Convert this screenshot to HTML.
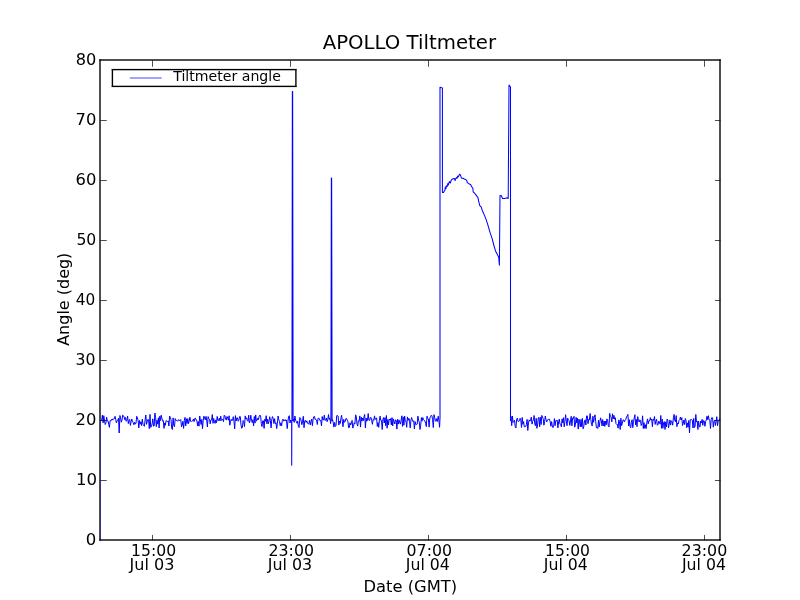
<!DOCTYPE html>
<html><head><meta charset="utf-8"><title>APOLLO Tiltmeter</title>
<style>
html,body{margin:0;padding:0;background:#fff;width:800px;height:600px;overflow:hidden}
svg{display:block;will-change:transform}
text{font-family:"DejaVu Sans","Liberation Sans",sans-serif;fill:#000}
</style></head><body>
<svg width="800" height="600" viewBox="0 0 800 600">
<defs><clipPath id="ax"><rect x="100" y="60" width="620" height="480"/></clipPath></defs>
<rect width="800" height="600" fill="#fff"/>
<g>
<rect x="99.000" y="59.306" width="1.000" height="481.388" fill="#000" fill-opacity="0.694"/>
<rect x="100.000" y="59.306" width="1.000" height="481.388" fill="#000" fill-opacity="0.694"/>
<rect x="719.000" y="59.306" width="1.000" height="481.388" fill="#000" fill-opacity="0.694"/>
<rect x="720.000" y="59.306" width="1.000" height="481.388" fill="#000" fill-opacity="0.694"/>
<rect x="99.306" y="59.000" width="621.388" height="1.000" fill="#000" fill-opacity="0.694"/>
<rect x="99.306" y="60.000" width="621.388" height="1.000" fill="#000" fill-opacity="0.694"/>
<rect x="99.306" y="539.000" width="621.388" height="1.000" fill="#000" fill-opacity="0.694"/>
<rect x="99.306" y="540.000" width="621.388" height="1.000" fill="#000" fill-opacity="0.694"/>
</g>
<path clip-path="url(#ax)" d="M99.85 540.0 L99.85 421.0 M291.65 421.0 L291.70 465.2 L291.85 421.0 L291.95 419.0 L292.35 91.4 L292.65 91.4 L293.10 421.0 M330.90 421.0 L331.35 178.0 L331.65 178.0 L332.10 421.0 M440.00 418.0 L440.00 87.2 L442.40 88.0 L442.40 192.4 L443.50 192.6 L444.30 191.0 L444.90 190.3 L445.30 187.0 L445.90 188.6 L446.40 185.8 L447.20 186.5 L447.80 183.6 L448.30 185.0 L449.30 181.6 L450.30 183.0 L451.00 180.8 L451.70 179.6 L453.00 178.8 L454.30 178.5 L455.20 180.5 L455.60 178.8 L456.60 177.6 L457.00 178.3 L457.60 176.2 L458.20 176.9 L459.50 174.3 L460.40 174.9 L461.50 178.2 L462.90 178.2 L464.40 179.0 L466.60 180.1 L467.30 182.6 L468.80 183.7 L470.60 184.5 L471.70 186.7 L472.80 188.1 L473.20 191.8 L474.70 193.3 L476.10 195.1 L478.00 197.7 L478.70 201.3 L479.80 205.7 L481.30 207.2 L482.40 210.9 L483.50 213.1 L485.90 218.9 L488.00 225.3 L490.10 232.7 L492.30 239.1 L493.90 245.5 L495.50 250.9 L497.10 254.1 L498.70 257.3 L499.40 265.3 L500.00 195.6 L501.20 195.6 L502.60 198.5 L504.70 198.5 L507.10 197.7 L508.20 198.5 L509.00 85.0 L510.50 87.0 L510.50 421.0" fill="none" stroke="#0000ff" stroke-width="1.04" stroke-linejoin="round" stroke-linecap="butt"/>
<path clip-path="url(#ax)" d="M99.85 421.0 L100.30 420.5 L101.00 420.8 L101.70 420.3 L102.40 415.1 L103.10 422.9 L103.80 415.7 L104.50 420.6 L105.20 424.5 L105.90 423.1 L106.60 417.2 L107.30 420.9 L108.00 420.8 L108.70 424.3 L109.40 427.4 L110.10 420.5 L110.80 421.1 L111.50 419.3 L112.20 420.1 L112.90 418.8 L113.60 419.3 L114.30 418.8 L115.00 416.3 L115.70 419.4 L116.40 422.9 L117.10 420.6 L117.80 420.3 L118.50 418.2 L119.20 433.0 L119.90 415.5 L120.60 417.9 L121.30 422.2 L122.00 420.1 L122.70 415.1 L123.40 415.7 L124.10 417.0 L124.80 419.8 L125.50 417.5 L126.20 421.3 L126.90 420.0 L127.60 416.0 L128.30 423.6 L129.00 420.6 L129.70 419.4 L130.40 425.4 L131.10 421.7 L131.80 419.1 L132.50 421.3 L133.20 422.7 L133.90 424.7 L134.60 422.3 L135.30 424.2 L136.00 423.0 L136.70 416.3 L137.40 418.0 L138.10 420.3 L138.80 427.9 L139.50 420.4 L140.20 424.2 L140.90 421.8 L141.60 425.6 L142.30 419.1 L143.00 424.5 L143.70 425.1 L144.40 426.3 L145.10 420.0 L145.80 415.0 L146.50 424.3 L147.20 421.5 L147.90 419.3 L148.60 419.8 L149.30 428.6 L150.00 414.4 L150.70 427.4 L151.40 426.4 L152.10 423.9 L152.80 418.8 L153.50 426.2 L154.20 425.8 L154.90 413.0 L155.60 417.4 L156.30 426.7 L157.00 420.2 L157.70 424.1 L158.40 417.8 L159.10 428.0 L159.80 416.1 L160.50 420.5 L161.20 415.2 L161.90 418.3 L162.60 421.1 L163.30 420.5 L164.00 428.4 L164.70 422.9 L165.40 425.3 L166.10 420.5 L166.80 421.0 L167.50 421.5 L168.20 420.8 L168.90 426.0 L169.60 416.0 L170.30 417.5 L171.00 419.7 L171.70 428.1 L172.40 429.5 L173.10 417.9 L173.80 425.6 L174.50 426.7 L175.20 418.6 L175.90 420.3 L176.60 420.3 L177.30 421.1 L178.00 421.0 L178.70 419.6 L179.40 420.4 L180.10 420.5 L180.80 419.6 L181.50 426.8 L182.20 425.1 L182.90 421.4 L183.60 428.4 L184.30 420.6 L185.00 417.4 L185.70 426.0 L186.40 418.7 L187.10 423.5 L187.80 418.6 L188.50 423.7 L189.20 421.3 L189.90 417.2 L190.60 421.2 L191.30 421.9 L192.00 421.2 L192.70 420.6 L193.40 419.1 L194.10 421.6 L194.80 418.4 L195.50 418.1 L196.20 420.3 L196.90 420.4 L197.60 426.0 L198.30 421.5 L199.00 426.2 L199.70 416.0 L200.40 419.8 L201.10 424.5 L201.80 419.4 L202.50 428.7 L203.20 420.4 L203.90 416.2 L204.60 417.9 L205.30 419.9 L206.00 416.4 L206.70 420.0 L207.40 427.0 L208.10 416.6 L208.80 418.4 L209.50 419.3 L210.20 423.8 L210.90 420.0 L211.60 419.9 L212.30 414.5 L213.00 423.3 L213.70 418.4 L214.40 422.0 L215.10 423.4 L215.80 419.9 L216.50 422.7 L217.20 416.4 L217.90 420.5 L218.60 420.6 L219.30 418.1 L220.00 420.9 L220.70 416.1 L221.40 420.4 L222.10 419.5 L222.80 419.4 L223.50 421.7 L224.20 415.1 L224.90 415.8 L225.60 418.9 L226.30 420.1 L227.00 416.5 L227.70 418.1 L228.40 420.2 L229.10 415.8 L229.80 425.2 L230.50 421.6 L231.20 419.3 L231.90 420.8 L232.60 420.0 L233.30 416.7 L234.00 421.4 L234.70 428.9 L235.40 415.6 L236.10 421.0 L236.80 417.8 L237.50 417.9 L238.20 421.3 L238.90 420.1 L239.60 416.5 L240.30 416.6 L241.00 424.9 L241.70 428.3 L242.40 427.4 L243.10 420.5 L243.80 421.8 L244.50 426.6 L245.20 415.9 L245.90 419.1 L246.60 417.8 L247.30 420.5 L248.00 421.3 L248.70 415.2 L249.40 423.0 L250.10 420.7 L250.80 415.2 L251.50 420.3 L252.20 422.6 L252.90 419.7 L253.60 425.9 L254.30 416.5 L255.00 423.1 L255.70 414.9 L256.40 421.0 L257.10 420.4 L257.80 418.1 L258.50 419.6 L259.20 416.1 L259.90 415.1 L260.60 415.8 L261.30 423.5 L262.00 426.6 L262.70 420.8 L263.40 420.8 L264.10 428.4 L264.80 419.2 L265.50 421.3 L266.20 415.7 L266.90 423.8 L267.60 419.2 L268.30 423.7 L269.00 421.2 L269.70 416.7 L270.40 420.6 L271.10 427.9 L271.80 419.2 L272.50 416.6 L273.20 418.5 L273.90 423.5 L274.60 418.7 L275.30 423.8 L276.00 422.8 L276.70 428.6 L277.40 423.2 L278.10 416.0 L278.80 419.7 L279.50 421.5 L280.20 425.7 L280.90 422.8 L281.60 425.8 L282.30 420.5 L283.00 419.1 L283.70 421.0 L284.40 420.7 L285.10 419.6 L285.80 421.0 L286.50 419.9 L287.20 428.6 L287.90 421.9 L288.60 416.4 L289.30 415.7 L290.00 423.0 L290.70 420.0 L291.40 421.8 L291.65 421.0 M293.10 421.0 L293.50 419.2 L294.20 422.4 L294.90 416.0 L295.60 420.2 L296.30 421.6 L297.00 423.3 L297.70 421.1 L298.40 426.6 L299.10 427.6 L299.80 417.5 L300.50 418.3 L301.20 421.1 L301.90 424.7 L302.60 421.1 L303.30 416.3 L304.00 427.7 L304.70 421.1 L305.40 420.2 L306.10 422.4 L306.80 420.8 L307.50 423.2 L308.20 423.9 L308.90 423.8 L309.60 420.2 L310.30 425.0 L311.00 421.6 L311.70 419.1 L312.40 425.7 L313.10 419.2 L313.80 416.7 L314.50 416.4 L315.20 419.7 L315.90 419.4 L316.60 420.0 L317.30 424.5 L318.00 418.7 L318.70 417.9 L319.40 419.1 L320.10 420.8 L320.80 420.4 L321.50 426.0 L322.20 416.5 L322.90 420.0 L323.60 419.9 L324.30 415.1 L325.00 420.5 L325.70 420.0 L326.40 418.0 L327.10 421.7 L327.80 419.3 L328.50 414.5 L329.20 419.5 L329.90 417.9 L330.60 423.6 L330.90 421.0 M332.10 421.0 L332.50 419.6 L333.20 422.4 L333.90 427.1 L334.60 422.4 L335.30 426.3 L336.00 425.8 L336.70 415.7 L337.40 415.5 L338.10 416.0 L338.80 425.1 L339.50 421.2 L340.20 423.5 L340.90 418.5 L341.60 415.3 L342.30 421.1 L343.00 426.7 L343.70 419.4 L344.40 422.2 L345.10 421.8 L345.80 418.7 L346.50 418.5 L347.20 420.1 L347.90 421.3 L348.60 427.7 L349.30 427.6 L350.00 422.7 L350.70 425.0 L351.40 422.8 L352.10 420.4 L352.80 428.1 L353.50 426.5 L354.20 422.8 L354.90 423.9 L355.60 414.8 L356.30 416.8 L357.00 424.1 L357.70 426.1 L358.40 420.8 L359.10 421.2 L359.80 415.9 L360.50 427.1 L361.20 417.1 L361.90 421.2 L362.60 418.1 L363.30 420.6 L364.00 416.6 L364.70 414.5 L365.40 427.9 L366.10 418.0 L366.80 421.2 L367.50 420.1 L368.20 413.5 L368.90 420.2 L369.60 420.6 L370.30 417.6 L371.00 417.5 L371.70 420.5 L372.40 424.3 L373.10 419.6 L373.80 420.3 L374.50 415.9 L375.20 419.5 L375.90 418.4 L376.60 418.0 L377.30 426.4 L378.00 422.6 L378.70 427.3 L379.40 420.3 L380.10 416.1 L380.80 420.6 L381.50 420.6 L382.20 429.5 L382.90 419.3 L383.60 417.6 L384.30 423.0 L385.00 417.6 L385.70 425.7 L386.40 415.5 L387.10 428.2 L387.80 419.5 L388.50 424.9 L389.20 419.1 L389.90 420.0 L390.60 418.6 L391.30 424.9 L392.00 417.6 L392.70 426.0 L393.40 418.9 L394.10 421.4 L394.80 424.0 L395.50 419.9 L396.20 420.3 L396.90 429.1 L397.60 419.3 L398.30 424.1 L399.00 419.9 L399.70 422.7 L400.40 424.1 L401.10 420.4 L401.80 415.8 L402.50 426.4 L403.20 416.9 L403.90 425.3 L404.60 416.0 L405.30 420.9 L406.00 421.1 L406.70 427.3 L407.40 416.9 L408.10 420.5 L408.80 418.3 L409.50 420.1 L410.20 427.9 L410.90 420.5 L411.60 417.5 L412.30 420.1 L413.00 421.5 L413.70 420.7 L414.40 428.9 L415.10 421.6 L415.80 424.6 L416.50 424.5 L417.20 424.1 L417.90 416.1 L418.60 420.2 L419.30 422.2 L420.00 429.5 L420.70 425.3 L421.40 417.6 L422.10 421.1 L422.80 417.6 L423.50 419.5 L424.20 420.4 L424.90 420.9 L425.60 423.4 L426.30 426.6 L427.00 416.2 L427.70 418.5 L428.40 418.9 L429.10 427.1 L429.80 418.2 L430.50 416.6 L431.20 415.3 L431.90 415.6 L432.60 419.7 L433.30 427.5 L434.00 414.6 L434.70 417.6 L435.40 420.9 L436.10 421.4 L436.80 418.6 L437.50 421.4 L438.20 416.2 L438.90 420.4 L439.60 427.3 L440.00 418.0 M510.50 421.0 L511.00 416.4 L511.70 425.6 L512.40 416.0 L513.10 422.5 L513.80 421.3 L514.50 420.2 L515.20 426.6 L515.90 428.0 L516.60 419.5 L517.30 418.2 L518.00 421.3 L518.70 421.5 L519.40 420.8 L520.10 418.3 L520.80 419.9 L521.50 427.5 L522.20 417.4 L522.90 424.3 L523.60 421.6 L524.30 426.8 L525.00 426.7 L525.70 426.5 L526.40 424.6 L527.10 419.4 L527.80 430.5 L528.50 422.9 L529.20 419.9 L529.90 421.2 L530.60 420.1 L531.30 417.1 L532.00 424.1 L532.70 421.2 L533.40 419.9 L534.10 415.5 L534.80 424.4 L535.50 425.7 L536.20 418.3 L536.90 428.3 L537.60 425.0 L538.30 417.7 L539.00 417.4 L539.70 426.7 L540.40 417.3 L541.10 424.5 L541.80 415.4 L542.50 417.0 L543.20 418.6 L543.90 425.2 L544.60 421.8 L545.30 416.0 L546.00 419.5 L546.70 421.9 L547.40 420.6 L548.10 419.2 L548.80 419.4 L549.50 419.2 L550.20 421.9 L550.90 426.3 L551.60 421.6 L552.30 425.8 L553.00 427.6 L553.70 425.9 L554.40 418.6 L555.10 425.7 L555.80 420.6 L556.50 420.7 L557.20 420.0 L557.90 427.9 L558.60 421.9 L559.30 419.0 L560.00 424.3 L560.70 424.8 L561.40 426.8 L562.10 418.8 L562.80 423.0 L563.50 417.7 L564.20 426.8 L564.90 421.5 L565.60 414.7 L566.30 421.1 L567.00 425.7 L567.70 418.2 L568.40 419.8 L569.10 420.7 L569.80 425.4 L570.50 420.8 L571.20 416.3 L571.90 425.8 L572.60 418.0 L573.30 418.5 L574.00 416.3 L574.70 427.2 L575.40 424.8 L576.10 417.3 L576.80 422.9 L577.50 418.3 L578.20 429.1 L578.90 419.1 L579.60 422.1 L580.30 426.9 L581.00 419.4 L581.70 426.8 L582.40 418.4 L583.10 428.8 L583.80 426.7 L584.50 420.8 L585.20 419.8 L585.90 425.0 L586.60 415.9 L587.30 415.8 L588.00 423.7 L588.70 419.4 L589.40 420.1 L590.10 413.5 L590.80 419.3 L591.50 424.5 L592.20 426.0 L592.90 416.2 L593.60 422.3 L594.30 417.5 L595.00 414.8 L595.70 421.3 L596.40 427.7 L597.10 427.2 L597.80 428.5 L598.50 420.2 L599.20 427.0 L599.90 421.7 L600.60 417.8 L601.30 420.8 L602.00 425.9 L602.70 419.6 L603.40 425.8 L604.10 421.0 L604.80 426.4 L605.50 421.1 L606.20 424.8 L606.90 418.9 L607.60 420.2 L608.30 425.7 L609.00 426.9 L609.70 413.4 L610.40 416.4 L611.10 417.5 L611.80 421.9 L612.50 413.8 L613.20 418.9 L613.90 415.3 L614.60 419.2 L615.30 417.7 L616.00 423.6 L616.70 424.4 L617.40 424.4 L618.10 428.2 L618.80 419.9 L619.50 421.8 L620.20 429.5 L620.90 418.2 L621.60 425.6 L622.30 423.5 L623.00 420.0 L623.70 419.9 L624.40 421.9 L625.10 420.5 L625.80 419.4 L626.50 416.9 L627.20 416.0 L627.90 414.4 L628.60 425.9 L629.30 419.6 L630.00 426.3 L630.70 427.7 L631.40 422.2 L632.10 419.7 L632.80 427.7 L633.50 421.6 L634.20 418.2 L634.90 414.7 L635.60 424.8 L636.30 419.4 L637.00 426.7 L637.70 416.6 L638.40 420.6 L639.10 422.0 L639.80 419.8 L640.50 420.7 L641.20 425.5 L641.90 423.8 L642.60 415.8 L643.30 428.5 L644.00 422.6 L644.70 428.3 L645.40 424.7 L646.10 428.6 L646.80 423.0 L647.50 418.9 L648.20 423.8 L648.90 420.8 L649.60 421.0 L650.30 417.6 L651.00 420.1 L651.70 419.0 L652.40 426.7 L653.10 419.2 L653.80 420.4 L654.50 416.5 L655.20 424.4 L655.90 420.9 L656.60 419.2 L657.30 425.3 L658.00 424.6 L658.70 421.2 L659.40 422.0 L660.10 424.1 L660.80 415.5 L661.50 428.3 L662.20 419.1 L662.90 428.3 L663.60 422.8 L664.30 421.6 L665.00 429.5 L665.70 421.9 L666.40 427.0 L667.10 419.0 L667.80 420.3 L668.50 427.8 L669.20 424.2 L669.90 419.9 L670.60 425.1 L671.30 420.7 L672.00 421.6 L672.70 425.2 L673.40 417.8 L674.10 414.4 L674.80 420.7 L675.50 421.8 L676.20 415.6 L676.90 426.7 L677.60 423.0 L678.30 423.9 L679.00 420.4 L679.70 419.6 L680.40 417.2 L681.10 420.0 L681.80 417.6 L682.50 425.5 L683.20 423.5 L683.90 420.0 L684.60 424.5 L685.30 418.5 L686.00 420.4 L686.70 427.6 L687.40 422.9 L688.10 427.2 L688.80 420.5 L689.50 433.0 L690.20 419.7 L690.90 419.7 L691.60 419.6 L692.30 420.1 L693.00 428.0 L693.70 418.4 L694.40 427.5 L695.10 426.1 L695.80 414.5 L696.50 422.0 L697.20 421.0 L697.90 429.5 L698.60 421.2 L699.30 426.5 L700.00 427.1 L700.70 421.1 L701.40 422.9 L702.10 419.4 L702.80 425.3 L703.50 420.5 L704.20 420.9 L704.90 426.3 L705.60 421.7 L706.30 419.9 L707.00 416.2 L707.70 419.7 L708.40 415.7 L709.10 419.9 L709.80 420.4 L710.50 428.5 L711.20 419.3 L711.90 417.4 L712.60 417.9 L713.30 427.2 L714.00 421.2 L714.70 420.2 L715.40 425.5 L716.10 421.0 L716.80 416.7 L717.50 425.7 L718.20 421.2 L718.90 420.4 L719.60 418.8 L720.30 421.4" fill="none" stroke="#0000ff" stroke-width="1.0" stroke-linejoin="round" stroke-linecap="butt"/>
<g>
<rect x="152.000" y="60.500" width="1.000" height="6.250" fill="#000" fill-opacity="0.694"/>
<rect x="152.000" y="534.944" width="1.000" height="5.556" fill="#000" fill-opacity="0.694"/>
<rect x="290.000" y="60.500" width="1.000" height="6.250" fill="#000" fill-opacity="0.694"/>
<rect x="290.000" y="534.944" width="1.000" height="5.556" fill="#000" fill-opacity="0.694"/>
<rect x="428.000" y="60.500" width="1.000" height="6.250" fill="#000" fill-opacity="0.694"/>
<rect x="428.000" y="534.944" width="1.000" height="5.556" fill="#000" fill-opacity="0.694"/>
<rect x="566.000" y="60.500" width="1.000" height="6.250" fill="#000" fill-opacity="0.694"/>
<rect x="566.000" y="534.944" width="1.000" height="5.556" fill="#000" fill-opacity="0.694"/>
<rect x="704.000" y="60.500" width="1.000" height="6.250" fill="#000" fill-opacity="0.694"/>
<rect x="704.000" y="534.944" width="1.000" height="5.556" fill="#000" fill-opacity="0.694"/>
<rect x="100.500" y="480.000" width="6.250" height="1.000" fill="#000" fill-opacity="0.694"/>
<rect x="714.944" y="480.000" width="5.556" height="1.000" fill="#000" fill-opacity="0.694"/>
<rect x="100.500" y="420.000" width="6.250" height="1.000" fill="#000" fill-opacity="0.694"/>
<rect x="714.944" y="420.000" width="5.556" height="1.000" fill="#000" fill-opacity="0.694"/>
<rect x="100.500" y="360.000" width="6.250" height="1.000" fill="#000" fill-opacity="0.694"/>
<rect x="714.944" y="360.000" width="5.556" height="1.000" fill="#000" fill-opacity="0.694"/>
<rect x="100.500" y="300.000" width="6.250" height="1.000" fill="#000" fill-opacity="0.694"/>
<rect x="714.944" y="300.000" width="5.556" height="1.000" fill="#000" fill-opacity="0.694"/>
<rect x="100.500" y="240.000" width="6.250" height="1.000" fill="#000" fill-opacity="0.694"/>
<rect x="714.944" y="240.000" width="5.556" height="1.000" fill="#000" fill-opacity="0.694"/>
<rect x="100.500" y="180.000" width="6.250" height="1.000" fill="#000" fill-opacity="0.694"/>
<rect x="714.944" y="180.000" width="5.556" height="1.000" fill="#000" fill-opacity="0.694"/>
<rect x="100.500" y="120.000" width="6.250" height="1.000" fill="#000" fill-opacity="0.694"/>
<rect x="714.944" y="120.000" width="5.556" height="1.000" fill="#000" fill-opacity="0.694"/>
</g>
<g>
<rect x="112.5" y="69.5" width="183.45" height="17" fill="#fff"/>
<line x1="112.4" y1="69.2" x2="112.4" y2="86.8" stroke="#000" stroke-width="1.39"/>
<line x1="295.9" y1="69.2" x2="295.9" y2="86.8" stroke="#000" stroke-width="1.39"/>
<rect x="111.705" y="68.000" width="184.890" height="1.000" fill="#000" fill-opacity="0.095"/>
<rect x="111.705" y="69.000" width="184.890" height="1.000" fill="#000" fill-opacity="1.000"/>
<rect x="111.705" y="70.000" width="184.890" height="1.000" fill="#000" fill-opacity="0.295"/>
<rect x="111.705" y="85.000" width="184.890" height="1.000" fill="#000" fill-opacity="0.295"/>
<rect x="111.705" y="86.000" width="184.890" height="1.000" fill="#000" fill-opacity="1.000"/>
<rect x="111.705" y="87.000" width="184.890" height="1.000" fill="#000" fill-opacity="0.095"/>
<rect x="129.800" y="77.000" width="31.900" height="2.000" fill="#0000ff" fill-opacity="0.360"/>
</g>
<g>
<text transform="translate(322.74 49.0) scale(0.9858 1)" font-size="20.0px">APOLLO Tiltmeter</text>
<text transform="translate(363.39 592.05) scale(0.9810 1)" font-size="16.667px">Date (GMT)</text>
<text transform="translate(173.25 81.1) scale(1.0167 1)" font-size="13.889px">Tiltmeter angle</text>
<text transform="translate(85.74 545.15) scale(0.9933 1)" font-size="16.667px">0</text>
<text transform="translate(76.08 485.15) scale(0.9952 1)" font-size="16.667px">10</text>
<text transform="translate(75.53 425.15) scale(0.9826 1)" font-size="16.667px">20</text>
<text transform="translate(75.46 365.15) scale(0.9411 1)" font-size="16.667px">30</text>
<text transform="translate(75.85 305.15) scale(0.9214 1)" font-size="16.667px">40</text>
<text transform="translate(76.41 245.15) scale(0.9385 1)" font-size="16.667px">50</text>
<text transform="translate(75.54 185.15) scale(0.9822 1)" font-size="16.667px">60</text>
<text transform="translate(75.55 125.15) scale(0.9816 1)" font-size="16.667px">70</text>
<text transform="translate(75.75 65.15) scale(0.9719 1)" font-size="16.667px">80</text>
<text transform="translate(131.09 556.2) scale(0.9382 1)" font-size="16.667px">15:00</text>
<text transform="translate(129.61 570.2) scale(0.9641 1)" font-size="16.667px">Jul 03</text>
<text transform="translate(268.53 556.2) scale(0.9480 1)" font-size="16.667px">23:00</text>
<text transform="translate(267.80 570.2) scale(0.9532 1)" font-size="16.667px">Jul 03</text>
<text transform="translate(406.59 556.2) scale(0.9465 1)" font-size="16.667px">07:00</text>
<text transform="translate(405.79 570.2) scale(0.9446 1)" font-size="16.667px">Jul 04</text>
<text transform="translate(545.04 556.2) scale(0.9371 1)" font-size="16.667px">15:00</text>
<text transform="translate(543.79 570.2) scale(0.9446 1)" font-size="16.667px">Jul 04</text>
<text transform="translate(681.57 556.2) scale(0.9535 1)" font-size="16.667px">23:00</text>
<text transform="translate(681.89 570.2) scale(0.9446 1)" font-size="16.667px">Jul 04</text>
<text transform="translate(69.15 345.82) rotate(-90) scale(0.9592 1)" font-size="16.667px">Angle (deg)</text>
</g>
</svg>
</body></html>
